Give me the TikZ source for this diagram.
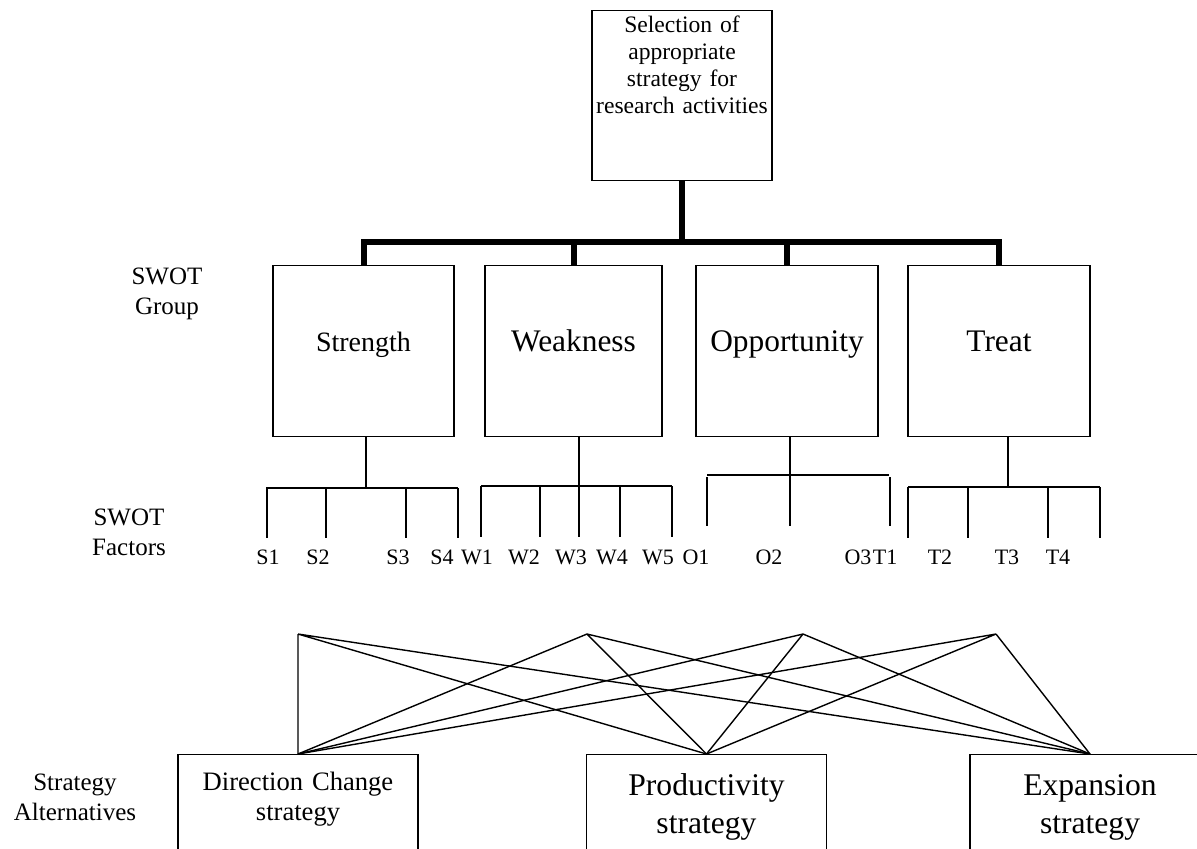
\documentclass[tikz,border=0pt]{standalone}
\usepackage{fontspec}
\setmainfont{Liberation Serif}
\usepackage{tikz}
\usetikzlibrary{positioning}
\tikzset{goalbox/.style={draw,inner sep=0pt,text width=90pt,align=center,anchor=north,text height=11pt,text depth=74pt,font=\fontsize{11.8}{13.5}\selectfont}}
\tikzset{swotbox/.style={draw,inner sep=0pt,align=center,anchor=north,text height=43pt,text depth=42.5pt,font=\fontsize{15.7}{18}\selectfont}}
\tikzset{stratbox/.style={draw,inner sep=0pt,text width=120pt,align=center,anchor=north,text depth=75pt}}
\tikzset{factxt/.style={inner sep=0pt,font=\fontsize{11}{13}\selectfont}}
\tikzset{sidetxt/.style={inner sep=0pt,align=center,font=\fontsize{12.5}{15}\selectfont}}
\tikzset{bus/.style={line width=3pt}}
\begin{document}
\begin{tikzpicture}[x=0.5pt,y=-0.5pt,line width=.7pt]
        \useasboundingbox (0,0) rectangle (1197,848);
        %Goal
        \node[goalbox] (goal) at (682,10) {Selection of\\appropriate\\strategy for\\research activities};
        %SWOT groups
        \node[swotbox,minimum width=90.5pt,font=\fontsize{14}{16}\selectfont] (st) at (363.5,265) {Strength};
        \node[swotbox,minimum width=88.5pt] (wk) at (573.5,265) {Weakness};
        \node[swotbox,minimum width=91pt] (op) at (787,265) {Opportunity};
        \node[swotbox,minimum width=91pt] (tr) at (999,265) {Treat};
        \draw[bus] (goal.south) -- ++(0,62);
        \draw[bus] (st.north) -- ++(0,-23) -| (tr.north);
        \draw[bus] (wk.north) -- ++(0,-23) (op.north) -- ++(0,-23);
        %%%%%%%%%%%%%%%%%%%%%% FACTORS %%%%%%%%%%%%%%%%%%%%%%
        \draw ([xshift=1.25pt]st.south) -- ++(0,52) (266,488) -- (458,488)
              (267,488) -- (267,538) (326,488) -- (326,538) (406,488) -- (406,538) (458,488) -- (458,538);
        \draw ([xshift=2.75pt]wk.south) -- ++(0,50) (481,486) -- (672,486)
              (481,486) -- (481,537) (540,486) -- (540,537) (579,486) -- (579,537) (620,486) -- (620,537) (672,486) -- (672,537);
        \draw ([xshift=1.5pt]op.south) -- ++(0,39) (707,475) -- (889,475)
              (707,477) -- (707,526) (790,475) -- (790,526) (890,477) -- (890,526);
        \draw ([xshift=4.5pt]tr.south) -- ++(0,51) (908,487) -- (1100,487)
              (908,487) -- (908,538) (968,487) -- (968,538) (1048,487) -- (1048,538) (1100,487) -- (1100,538);
        \path (268,557)node[factxt] (s1){S1} (318,557)node[factxt] (s2){S2} (398,557)node[factxt] (s3){S3} (442,557)node[factxt] (s4){S4}
              (477,557)node[factxt] (w1){W1} (524,557)node[factxt] (w2){W2} (571,557)node[factxt] (w3){W3} (612,557)node[factxt] (w4){W4} (658,557)node[factxt] (w5){W5}
              (696,557)node[factxt] (o1){O1} (769,557)node[factxt] (o2){O2} (858,557)node[factxt] (o3){O3}
              (940,557)node[factxt] (t2){T2} (1007,557)node[factxt] (t3){T3} (1058,557)node[factxt] (t4){T4};
        \node[factxt,right=0pt of o3] (t1) {T1};
        %Row titles
        \path (167,294)node[sidetxt] (grouptxt){SWOT\\Group} (129,532)node[sidetxt] (factorstxt){SWOT\\Factors} (75,797)node[sidetxt] (alttxt){Strategy\\Alternatives};
        %Alternatives
        \node[stratbox,text height=18pt,font=\fontsize{13.3}{15}\selectfont] (dc) at (298,754) {Direction Change\\strategy};
        \node[stratbox,text height=20.5pt,font=\fontsize{15.8}{19}\selectfont] (pr) at (706.5,754) {Productivity\\strategy};
        \node[stratbox,text height=20.5pt,font=\fontsize{15.8}{19}\selectfont] (ex) at (1090,754) {Expansion\\strategy};
        \coordinate (f1) at (298,634);
        \coordinate (f2) at (587,634);
        \coordinate (f3) at (803,634);
        \coordinate (f4) at (996,634);
        \draw (f1) -- (dc.north) (f1) -- (pr.north) (f1) -- (ex.north);
        \draw (f2) -- (dc.north) (f2) -- (pr.north) (f2) -- (ex.north);
        \draw (f3) -- (dc.north) (f3) -- (pr.north) (f3) -- (ex.north);
        \draw (f4) -- (dc.north) (f4) -- (pr.north) (f4) -- (ex.north);
\end{tikzpicture}
\end{document}
